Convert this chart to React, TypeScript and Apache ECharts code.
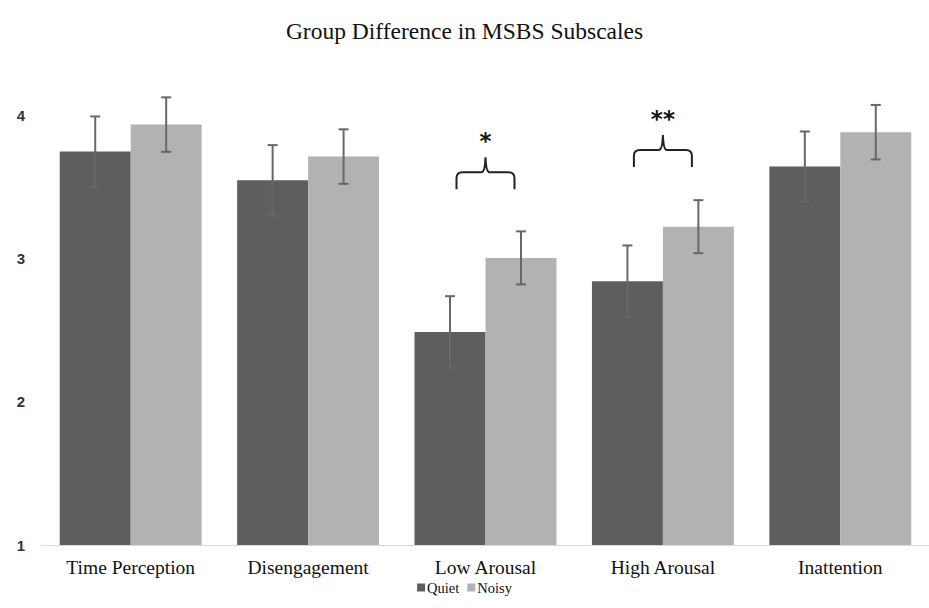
import React, { useEffect, useRef } from "react";
import * as echarts from "echarts";

const categories = ["Time Perception", "Disengagement", "Low Arousal", "High Arousal", "Inattention"];
const quietMeans = [3.745, 3.545, 2.486, 2.84, 3.64];
const quietErr = [0.245, 0.245, 0.25, 0.25, 0.245];
const noisyMeans = [3.933, 3.71, 3.003, 3.221, 3.88];
const noisyErr = [0.19, 0.19, 0.185, 0.185, 0.19];
const yTicks = [1, 2, 3, 4];
const sigCategoryIndex = [2, 3];
const sigLabels = ["*", "**"];
const bracketLevels = [3.6, 3.756];

const BAR_GAP_RATIO = 0.2;

function errorRender(sign: number) {
  return (params: any, api: any) => {
    const idx = api.value(0);
    const mean = api.value(1);
    const err = api.value(2);
    const band = api.size([1, 0])[0];
    const barW = (band * (1 - BAR_GAP_RATIO)) / 2;
    const c = api.coord([idx, mean]);
    const x = c[0] + sign * barW / 2;
    const top = api.coord([idx, mean + err])[1];
    const bot = api.coord([idx, mean - err])[1];
    const style = { stroke: "#676767", lineWidth: 2 };
    const cap = 5;
    return {
      type: "group",
      children: [
        { type: "line", shape: { x1: x, y1: top, x2: x, y2: bot }, style },
        { type: "line", shape: { x1: x - cap, y1: top, x2: x + cap, y2: top }, style },
        { type: "line", shape: { x1: x - cap, y1: bot, x2: x + cap, y2: bot }, style },
      ],
    };
  };
}

function bracketRender(params: any, api: any) {
  const idx = api.value(0);
  const level = api.value(1);
  const label = sigLabels[params.dataIndex];
  const p = api.coord([idx, level]);
  const cx = p[0];
  const hy = p[1];
  const w = 29;
  const d = 17;
  const up = 15;
  const pathData =
    `M ${cx - w} ${hy + d} L ${cx - w} ${hy + 6} Q ${cx - w} ${hy} ${cx - w + 6} ${hy} ` +
    `L ${cx - 4} ${hy} Q ${cx - 0.5} ${hy} ${cx} ${hy - up} Q ${cx + 0.5} ${hy} ${cx + 4} ${hy} ` +
    `L ${cx + w - 6} ${hy} Q ${cx + w} ${hy} ${cx + w} ${hy + 6} L ${cx + w} ${hy + d}`;
  return {
    type: "group",
    children: [
      {
        type: "path",
        shape: { pathData },
        style: { stroke: "#222222", lineWidth: 2, fill: null },
      },
      {
        type: "text",
        style: {
          text: label,
          x: cx,
          y: hy - up - 16,
          textAlign: "center",
          textVerticalAlign: "middle",
          font: "bold 23px 'DejaVu Sans', sans-serif",
          fill: "#111111",
        },
      },
    ],
  };
}

export default function App() {
  const ref = useRef<HTMLDivElement>(null);
  useEffect(() => {
    if (!ref.current) return;
    const chart = echarts.init(ref.current, null, { renderer: "svg" });
    chart.setOption({
      animation: false,
      backgroundColor: "#ffffff",
      title: {
        text: "Group Difference in MSBS Subscales",
        left: "center",
        top: 14,
        textStyle: {
          fontFamily: "'Liberation Serif', serif",
          fontSize: 23.5,
          fontWeight: "normal",
          color: "#111111",
        },
      },
      legend: {
        data: ["Quiet", "Noisy"],
        bottom: 8,
        left: "center",
        icon: "rect",
        itemWidth: 8,
        itemHeight: 8,
        itemGap: 8,
        textStyle: {
          fontFamily: "'Liberation Serif', serif",
          fontSize: 14.5,
          color: "#111111",
          padding: [0, 0, 0, -3],
        },
      },
      grid: { left: 42, top: 115, bottom: 63, width: 893, containLabel: false },
      xAxis: {
        type: "category",
        data: categories,
        axisLine: { lineStyle: { color: "#d9d9d9", width: 1 } },
        axisTick: { show: false },
        axisLabel: {
          margin: 12,
          fontFamily: "'Liberation Serif', serif",
          fontSize: 19.5,
          color: "#111111",
        },
      },
      yAxis: {
        type: "value",
        min: yTicks[0],
        max: yTicks[yTicks.length - 1],
        interval: 1,
        axisLine: { show: false },
        axisTick: { show: false },
        splitLine: { show: false },
        axisLabel: {
          margin: 17,
          fontFamily: "'Liberation Sans', sans-serif",
          fontWeight: "bold",
          fontSize: 15,
          color: "#333333",
        },
      },
      series: [
        {
          name: "Quiet",
          type: "bar",
          data: quietMeans,
          barGap: "0%",
          barCategoryGap: BAR_GAP_RATIO * 100 + "%",
          itemStyle: { color: "#5e5e5e" },
        },
        {
          name: "Noisy",
          type: "bar",
          data: noisyMeans,
          itemStyle: { color: "#b2b2b2" },
        },
        {
          name: "QuietErr",
          type: "custom",
          renderItem: errorRender(-1),
          data: quietMeans.map((m, i) => [i, m, quietErr[i]]),
          encode: { x: 0, y: 1 },
          clip: false,
          z: 5,
        },
        {
          name: "NoisyErr",
          type: "custom",
          renderItem: errorRender(1),
          data: noisyMeans.map((m, i) => [i, m, noisyErr[i]]),
          encode: { x: 0, y: 1 },
          clip: false,
          z: 5,
        },
        {
          name: "Significance",
          type: "custom",
          renderItem: bracketRender,
          data: sigCategoryIndex.map((c, i) => [c, bracketLevels[i]]),
          encode: { x: 0, y: 1 },
          clip: false,
          z: 6,
        },
      ],
    });
    return () => chart.dispose();
  }, []);
  return (
    <div
      ref={ref}
      style={{ position: "fixed", left: 0, top: 0, width: 929, height: 608, overflow: "hidden" }}
    />
  );
}
